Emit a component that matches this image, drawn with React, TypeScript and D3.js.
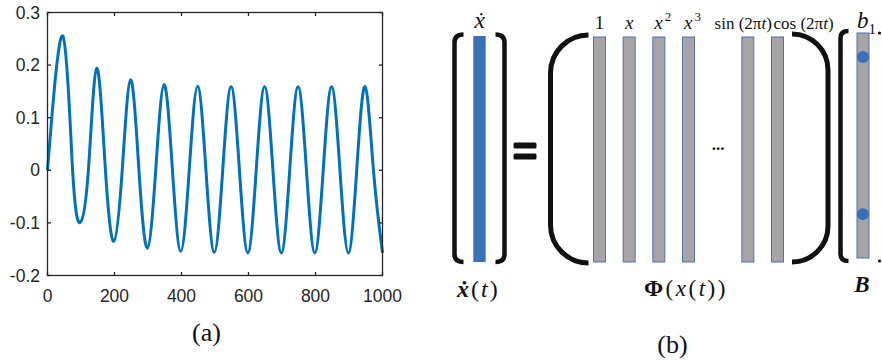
import React from "react";
import * as d3 from "d3";

// (a) response: start, peaks, troughs and zero crossings
const timeSteps = [
  0, 46, 75, 98, 122, 147, 173, 198, 223, 248, 273, 298, 323, 348, 373, 398, 423, 448, 473, 498,
  523, 548, 573, 598, 623, 648, 673, 698, 723, 748, 773, 798, 823, 848, 873, 898, 923, 948, 973, 1000,
];
const response = [
  0, 0.255, 0, -0.099, 0, 0.194, 0, -0.135, 0, 0.172, 0, -0.148, 0, 0.163, 0, -0.154, 0, 0.16, 0, -0.156,
  0, 0.159, 0, -0.157, 0, 0.159, 0, -0.157, 0, 0.159, 0, -0.157, 0, 0.159, 0, -0.157, 0, 0.159, 0, -0.157,
];
const xTicks = [0, 200, 400, 600, 800, 1000];
const yTicks = [-0.2, -0.1, 0, 0.1, 0.2, 0.3];

// (b) library columns, "..." marks the gap between polynomial and trig terms
const termNames = ["1", "x", "x^2", "x^3", "...", "sin(2πt)", "cos(2πt)"];
// rows of B that hold a non-zero coefficient (fraction of column height)
const activeRows = [0.107, 0.805];

const W = 882;
const H = 360;
const ink = "#111";
const axisColor = "#262626";
const serif = "Liberation Serif";
const sans = "Liberation Sans";
const gray = "#a6a4a7";
const blue = "#3a70b7";
const edge = "#4f73ad";

const font = (family: string, size: number, extra: React.CSSProperties = {}) => ({
  fontFamily: family,
  fontSize: `${size}px`,
  ...extra,
});

const it = { fontStyle: "italic" } as React.CSSProperties;
const bold = { fontWeight: "bold" } as React.CSSProperties;

function Response() {
  const box = { left: 47.5, right: 382.5, top: 12.5, bottom: 275.5 };
  const x = d3.scaleLinear().domain([0, 1000]).range([box.left, box.right]);
  const y = d3.scaleLinear().domain([-0.2, 0.3]).range([box.bottom, box.top]);
  const line = d3
    .line<[number, number]>()
    .x((d) => x(d[0]))
    .y((d) => y(d[1]))
    .curve(d3.curveNatural);
  const tick = 3.5;

  return (
    <g>
      <path
        d={line(d3.zip(timeSteps, response) as [number, number][]) || ""}
        fill="none"
        stroke="#0072BD"
        strokeWidth={3}
      />
      <rect
        x={box.left}
        y={box.top}
        width={box.right - box.left}
        height={box.bottom - box.top}
        fill="none"
        stroke={axisColor}
        strokeWidth={1.3}
      />
      {xTicks.map((t) => (
        <g key={`x${t}`}>
          <line x1={x(t)} x2={x(t)} y1={box.bottom} y2={box.bottom - tick} stroke={axisColor} strokeWidth={1.3} />
          <line x1={x(t)} x2={x(t)} y1={box.top} y2={box.top + tick} stroke={axisColor} strokeWidth={1.3} />
          <text x={x(t)} y={302} textAnchor="middle" fill={axisColor} style={font(sans, 17.5)}>
            {d3.format("d")(t)}
          </text>
        </g>
      ))}
      {yTicks.map((t) => (
        <g key={`y${t}`}>
          <line x1={box.left} x2={box.left + tick} y1={y(t)} y2={y(t)} stroke={axisColor} strokeWidth={1.3} />
          <line x1={box.right} x2={box.right - tick} y1={y(t)} y2={y(t)} stroke={axisColor} strokeWidth={1.3} />
          <text x={40} y={y(t)} dy="0.35em" textAnchor="end" fill={axisColor} style={font(sans, 17.5)}>
            {t === 0 ? "0" : d3.format(".1f")(t).replace("−", "-")}
          </text>
        </g>
      ))}
      <text x={206.5} y={341} textAnchor="middle" fill={ink} style={font(serif, 26)}>
        (a)
      </text>
    </g>
  );
}

// small square bracket, dir = 1 opens right
function bracketPath(xv: number, top: number, bottom: number, dir: number, r: number, reach: number) {
  const p = d3.path();
  p.moveTo(xv + dir * reach, top);
  p.quadraticCurveTo(xv, top, xv, top + r);
  p.lineTo(xv, bottom - r);
  p.quadraticCurveTo(xv, bottom, xv + dir * reach, bottom);
  return p.toString();
}

// large round parenthesis
function parenPath(xv: number, top: number, bottom: number, dir: number, r: number) {
  const sweep = dir > 0 ? 0 : 1;
  return `M${xv + dir * r},${top} A${r},${r} 0 0 ${sweep} ${xv},${top + r} L${xv},${bottom - r} A${r},${r} 0 0 ${sweep} ${xv + dir * r},${bottom}`;
}

function TermLabel({ name, cx }: { name: string; cx: number }) {
  if (name.includes("^")) {
    const [b, s] = name.split("^");
    return (
      <text x={cx + 4} y={29} textAnchor="middle" fill={ink} style={font(serif, 19)}>
        <tspan style={it}>{b}</tspan>
        <tspan dx={2} dy={-8} style={{ fontSize: "13px" }}>
          {s}
        </tspan>
      </text>
    );
  }
  if (name.startsWith("sin") || name.startsWith("cos")) {
    const isSin = name.startsWith("sin");
    return (
      <text
        x={isSin ? cx + 24 : cx - 4}
        y={29}
        textAnchor={isSin ? "end" : "start"}
        fill={ink}
        style={font(serif, 17)}
      >
        {name.slice(0, 3) + " (2π"}
        <tspan style={it}>t</tspan>)
      </text>
    );
  }
  return (
    <text x={cx} y={29} textAnchor="middle" fill={ink} style={font(serif, 19, name === "1" ? {} : it)}>
      {name}
    </text>
  );
}

function Regression() {
  const slot = d3.scaleLinear().domain([0, termNames.length - 1]).range([599.5, 777.5]);
  const barTop = 37;
  const barBottom = 262;
  const barW = 12;
  const xdotX = 479.5;
  const bX = 863;
  const bTop = 33;
  const bBottom = 258;
  const rowY = d3.scaleLinear().domain([0, 1]).range([bTop, bBottom]);
  const strokeProps = { fill: "none", stroke: ink };

  return (
    <g>
      {/* x-dot column */}
      <path d={bracketPath(454.5, 34.5, 262, 1, 8, 9)} {...strokeProps} strokeWidth={4.5} />
      <path d={bracketPath(504.5, 34.5, 262, -1, 8, 9)} {...strokeProps} strokeWidth={4.5} />
      <rect x={xdotX - 6.2} y={36} width={12.4} height={226} fill={blue} />
      <text x={xdotX} y={28} textAnchor="middle" fill={ink} style={font(serif, 24, it)}>
        ẋ
      </text>

      {/* equals sign */}
      {[142.5, 153.5].map((yy) => (
        <rect key={yy} x={513.5} y={yy} width={23} height={6} rx={1.5} fill={ink} />
      ))}

      {/* library matrix */}
      <path d={parenPath(550.5, 35, 263, 1, 38)} {...strokeProps} strokeWidth={5} />
      <path d={parenPath(828, 34, 262, -1, 36)} {...strokeProps} strokeWidth={5} />
      {termNames.map((name, i) =>
        name === "..." ? (
          <text key={name} x={slot(i)} y={150} textAnchor="middle" fill={ink} style={font(serif, 17, bold)}>
            ...
          </text>
        ) : (
          <g key={name}>
            <rect
              x={slot(i) - barW / 2}
              y={barTop}
              width={barW}
              height={barBottom - barTop}
              fill={gray}
              stroke={edge}
              strokeWidth={1}
            />
            <TermLabel name={name} cx={slot(i)} />
          </g>
        )
      )}

      {/* coefficient column B */}
      <path d={bracketPath(840.5, 31, 261, 1, 7, 8)} {...strokeProps} strokeWidth={4.5} />
      <rect x={bX - 6} y={bTop} width={12} height={bBottom - bTop} fill={gray} stroke={edge} strokeWidth={1} />
      {activeRows.map((r) => (
        <circle key={r} cx={bX} cy={rowY(r)} r={6} fill={blue} />
      ))}
      <text x={857} y={28} fill={ink} style={font(serif, 23)}>
        <tspan style={it}>b</tspan>
        <tspan dy={6} style={{ fontSize: "15px" }}>
          1
        </tspan>
      </text>
      {[33, 261].map((yy) => (
        <circle key={yy} cx={879.5} cy={yy} r={1.6} fill={ink} />
      ))}

      {/* bottom names */}
      <text x={457} y={297} fill={ink} style={font(serif, 24, { letterSpacing: "2px" })}>
        <tspan style={{ ...it, ...bold }}>ẋ</tspan>(<tspan style={it}>t</tspan>)
      </text>
      <text x={644} y={296} fill={ink} style={font(serif, 23, { letterSpacing: "2.5px" })}>
        <tspan style={bold}>Φ</tspan>(<tspan style={it}>x</tspan>(<tspan style={it}>t</tspan>))
      </text>
      <text x={862} y={292} textAnchor="middle" fill={ink} style={font(serif, 23, { ...it, ...bold })}>
        B
      </text>
      <text x={672.5} y={353} textAnchor="middle" fill={ink} style={font(serif, 26)}>
        (b)
      </text>
    </g>
  );
}

export default function App() {
  return (
    <svg width={W} height={H} style={{ position: "absolute", left: 0, top: 0, background: "#fff" }}>
      <Response />
      <Regression />
    </svg>
  );
}
